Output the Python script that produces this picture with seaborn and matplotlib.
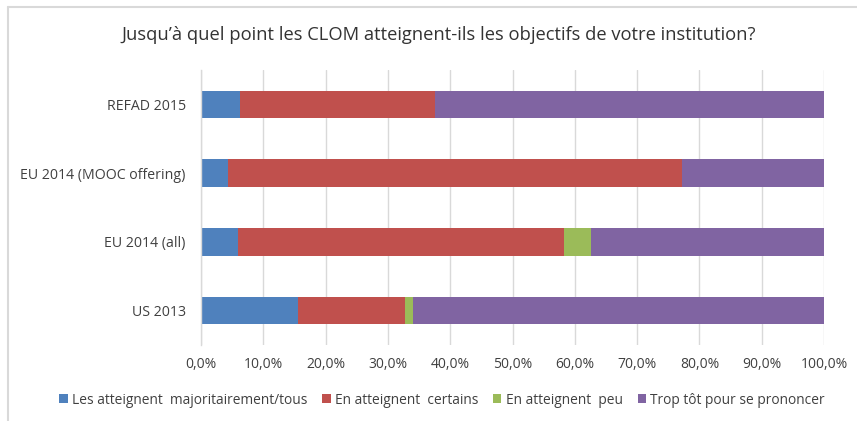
import matplotlib
matplotlib.use("Agg")
import matplotlib.pyplot as plt
from matplotlib.patches import Patch
from matplotlib.lines import Line2D
from matplotlib.ticker import FuncFormatter
import seaborn as sns
import pandas as pd
import numpy as np

categories = ["REFAD 2015", "EU 2014 (MOOC offering)", "EU 2014 (all)", "US 2013"]
majoritairement = [6.2, 4.4, 5.9, 15.5]
certains = [31.4, 72.8, 52.3, 17.3]
peu = [0.0, 0.0, 4.4, 1.3]
trop_tot = [62.4, 22.8, 37.4, 65.9]

series_names = ["Les atteignent  majoritairement/tous", "En atteignent  certains",
                "En atteignent  peu", "Trop tôt pour se prononcer"]
colors = ["#4F81BD", "#C0504D", "#9BBB59", "#8064A2"]
title = "Jusqu’à quel point les CLOM atteignent-ils les objectifs de votre institution?"

sns.set_theme(style="white")
plt.rcParams['font.family'] = ['Open Sans', 'DejaVu Sans']

W, H = 857, 421
fig = plt.figure(figsize=(W / 100, H / 100), dpi=100)
ax = fig.add_axes([201/W, 1 - 345/H, (824 - 201)/W, (345 - 70)/H])

values = [majoritairement, certains, peu, trop_tot]
cum = np.cumsum(np.array(values), axis=0)
# draw from the largest cumulative to smallest so stacking appears
for i in range(3, -1, -1):
    df = pd.DataFrame({"cat": categories, "val": cum[i]})
    sns.barplot(data=df, y="cat", x="val", color=colors[i], width=0.4,
                saturation=1, ax=ax, zorder=2, edgecolor="none", linewidth=0)

ax.set_xlim(0, 100)
ax.set_ylim(3.5, -0.5)
ax.set_xticks(np.arange(0, 101, 10))
ax.xaxis.set_major_formatter(FuncFormatter(lambda v, p: f"{v:.1f}%".replace(".", ",")))
ax.grid(axis="x", color="#D9D9D9", linewidth=1, zorder=0)
ax.grid(axis="y", visible=False)
for s in ["top", "right", "bottom"]:
    ax.spines[s].set_visible(False)
ax.spines["left"].set_color("#D9D9D9")
ax.spines["left"].set_linewidth(1)
ax.set_xlabel("")
ax.set_ylabel("")
ax.tick_params(axis="x", colors="#D9D9D9", labelsize=10, length=0, pad=8.5)
ax.tick_params(axis="y", colors="#404040", labelsize=10.2, length=0, pad=11)
for lbl in ax.get_xticklabels() + ax.get_yticklabels():
    lbl.set_color("#404040")

fig.text(439/W, 1 - 35/H, title, ha="center", va="center", fontsize=13.2, color="#333333")

handles = [Patch(facecolor=c, edgecolor="none") for c in colors]
fig.legend(handles, series_names, loc="center", bbox_to_anchor=(442/W, 1 - 400/H),
           ncol=4, frameon=False, fontsize=9.9, handlelength=0.6, handleheight=0.6,
           handletextpad=0.3, columnspacing=1.1, labelcolor="#404040")

fig.add_artist(Line2D([8/W, 8/W], [0, 1 - 7/H], transform=fig.transFigure,
                      color="#D9D9D9", linewidth=1.5))
fig.add_artist(Line2D([8/W, 1], [1 - 7/H, 1 - 7/H], transform=fig.transFigure,
                      color="#D9D9D9", linewidth=1.5))

fig.savefig("out.png", dpi=100)
